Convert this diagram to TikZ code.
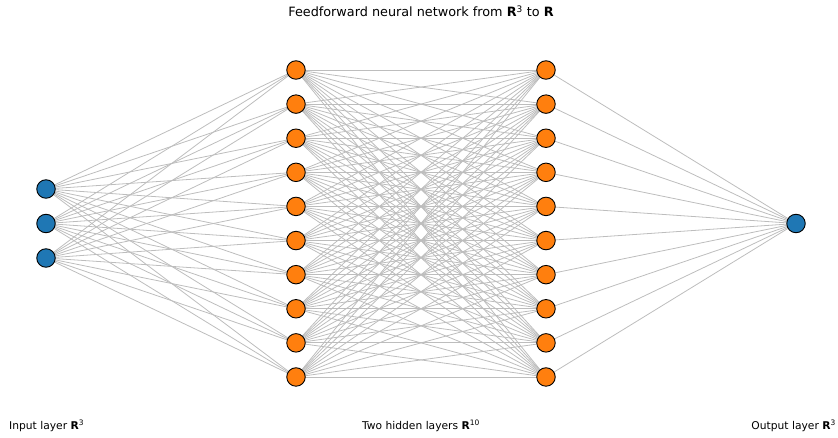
\documentclass[tikz,border=0pt]{standalone}
\usepackage{fontspec}
\setmainfont{DejaVu Sans}
\definecolor{mplblue}{HTML}{1F77B4}
\definecolor{mplorange}{HTML}{FF7F0E}
\begin{document}
\begin{tikzpicture}[x=1pt,y=-1pt,
  neuronin/.style={circle,draw=black,line width=0.9pt,fill=mplblue,minimum size=18.5pt,inner sep=0pt},
  neuronhid/.style={circle,draw=black,line width=0.9pt,fill=mplorange,minimum size=18.5pt,inner sep=0pt},
  edge/.style={draw=black!26,line width=0.8pt},
  lbl/.style={font=\fontsize{10.7}{12}\selectfont,inner sep=0pt}]
\useasboundingbox (0,0) rectangle (838,438);
% coordinates
\foreach \i/\y in {1/189,2/223.5,3/258} \coordinate (in\i) at (46,\y);
\foreach \i in {1,...,10} {
  \coordinate (ha\i) at (296,{70+(\i-1)*34.11});
  \coordinate (hb\i) at (546,{70+(\i-1)*34.11});
}
\coordinate (out1) at (796,223.5);
% edges
\foreach \i in {1,2,3} \foreach \j in {1,...,10} \draw[edge] (in\i) -- (ha\j);
\foreach \i in {1,...,10} \foreach \j in {1,...,10} \draw[edge] (ha\i) -- (hb\j);
\foreach \i in {1,...,10} \draw[edge] (hb\i) -- (out1);
% nodes
\foreach \i in {1,2,3} \node[neuronin] (nin\i) at (in\i) {};
\foreach \i in {1,...,10} {
  \node[neuronhid] (nha\i) at (ha\i) {};
  \node[neuronhid] (nhb\i) at (hb\i) {};
}
\node[neuronin] (nout) at (out1) {};
% labels
\node[lbl] (title) at (421,11) {\fontsize{12.8}{14}\selectfont Feedforward neural network from {\bfseries R}\textsuperscript{3} to {\bfseries R}};
\node[lbl,anchor=west] (linput) at (9,426) {Input layer {\bfseries R}\textsuperscript{3}};
\node[lbl] (lhidden) at (421,426) {Two hidden layers {\bfseries R}\textsuperscript{10}};
\node[lbl,anchor=east] (loutput) at (836,426) {Output layer {\bfseries R}\textsuperscript{3}};
\end{tikzpicture}
\end{document}
